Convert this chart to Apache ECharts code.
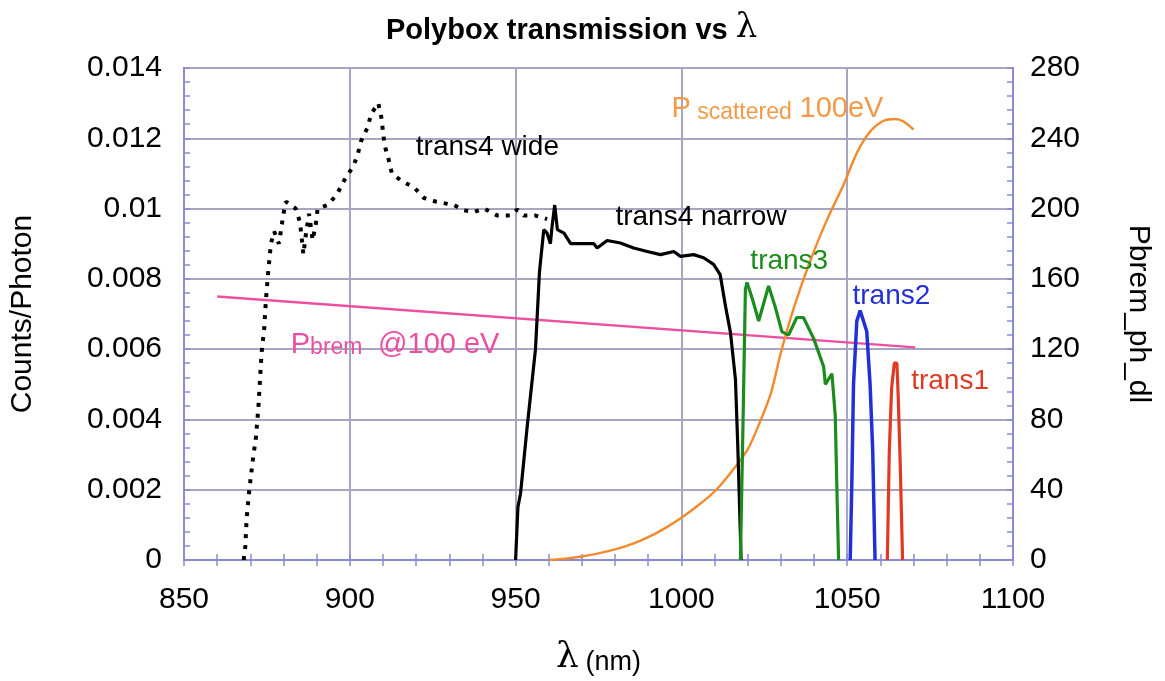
<!DOCTYPE html>
<html><head><meta charset="utf-8">
<script src="https://cdn.jsdelivr.net/npm/echarts@6/dist/echarts.min.js"></script>
<style>html,body{margin:0;padding:0;background:#fff}#c{width:1165px;height:681px}</style>
</head><body><div id="c"></div>
<script>
// ---- data (λ in nm, left axis Counts/Photon, right axis Pbrem_ph_dl) ----
const xTicks = [850, 900, 950, 1000, 1050, 1100];
const leftTicks = [0, 0.002, 0.004, 0.006, 0.008, 0.01, 0.012, 0.014];
const rightTicks = [0, 40, 80, 120, 160, 200, 240, 280];

const trans4Wide = [[868,0],[868.5,0.0004],[868.9,0.0012],[869.7,0.002],[870.7,0.0028],[871.7,0.0035],[872.4,0.0043],[872.9,0.0051],[873.4,0.0059],[874.2,0.0066],[874.7,0.0074],[875.4,0.0082],[876.2,0.009],[877.2,0.00935],[878.6,0.0090],[879.2,0.00935],[879.9,0.0098],[880.7,0.0102],[883.7,0.0100],[885.0,0.0096],[886.0,0.0087],[886.8,0.0093],[887.7,0.00985],[888.8,0.0091],[889.8,0.0096],[890.3,0.0100],[893.3,0.0101],[896.1,0.0104],[898.3,0.0108],[901.0,0.0112],[902.3,0.0115],[903.3,0.0119],[905.3,0.0123],[906.5,0.0127],[908.6,0.0130],[909.5,0.0126],[910.0,0.0122],[910.5,0.0118],[911.7,0.0114],[912.7,0.0110],[915.4,0.0108],[919.4,0.0106],[922.4,0.0103],[925.9,0.0102],[931.4,0.0101],[934.4,0.00995],[937.4,0.0099],[940.5,0.0100],[944.5,0.0098],[948.3,0.0098],[950.5,0.00997],[952.5,0.0098],[956.0,0.0098],[959.5,0.0097]];
const trans4Narrow = [[950.0,0],[950.7,0.0015],[951.5,0.0019],[953.5,0.0038],[956.0,0.006],[957.2,0.0082],[958.5,0.0094],[959.5,0.0093],[960.5,0.0090],[961.0,0.0095],[961.8,0.0101],[962.6,0.0094],[964.6,0.0093],[966.6,0.0090],[969.6,0.0090],[973.6,0.0090],[974.6,0.00888],[977.6,0.00909],[981.6,0.00902],[985.6,0.00888],[989.7,0.00878],[993.7,0.00869],[997.7,0.00878],[999.7,0.00864],[1003.7,0.00869],[1006.7,0.0086],[1009.7,0.00841],[1011.7,0.00812],[1013.3,0.00722],[1014.8,0.00647],[1016.3,0.00514],[1017.0,0.00325],[1017.6,0.00135],[1018.0,0]];
const trans3 = [[1017.8,0],[1018.6,0.004],[1019.3,0.0077],[1019.8,0.0079],[1021.5,0.0074],[1023.3,0.0068],[1024.8,0.0073],[1026.3,0.0078],[1028.3,0.0072],[1030.3,0.0065],[1032.3,0.0064],[1034.8,0.0069],[1036.8,0.0069],[1039.9,0.0063],[1042.9,0.0055],[1043.4,0.0050],[1045.4,0.0053],[1046.4,0.0041],[1046.9,0.0020],[1047.4,0]];
const trans2 = [[1050.9,0],[1051.4,0.0022],[1051.9,0.005],[1052.9,0.0068],[1053.9,0.0071],[1054.9,0.0068],[1055.9,0.0065],[1056.9,0.005],[1057.7,0.0031],[1058.4,0]];
const trans1 = [[1062.1,0],[1062.7,0.0031],[1063.4,0.0049],[1064.2,0.0056],[1065.0,0.0056],[1065.4,0.0046],[1066.0,0.0027],[1066.7,0]];
const pBrem = [[860,150],[1070.5,121]];
const pScattered = [[960,0],[965,0.8],[970,2],[975,3.8],[980,6],[985,9],[990,13],[995,18],[1000,24],[1005,31],[1010,39],[1015,50],[1020,63],[1024,80],[1027,95],[1030,118],[1034,144],[1039,171],[1044,194],[1049,214],[1053,232],[1057,244],[1061,250],[1064.5,251],[1067,249.6],[1070,245]];

// label anchors in data coordinates (left axis)
const labels = [
  {x: 919.9, y: 0.01173, text: 'trans4 wide', color: '#000'},
  {x: 980.1, y: 0.00974, text: 'trans4 narrow', color: '#000'},
  {x: 1020.8, y: 0.0085, text: 'trans3', color: '#1c8c1c'},
  {x: 1051.6, y: 0.0075, text: 'trans2', color: '#2230d8'},
  {x: 1069.3, y: 0.00509, text: 'trans1', color: '#e03a22'},
  {x: 882.2, y: 0.0062, text: '{a|P}{s|brem}  {a|@100 eV}', color: '#ec4fa0'},
  {x: 997.0, y: 0.0129, text: '{a|P}{s2| scattered} {a|100eV}', color: '#f39a4a'}
];

const FONT = 'Liberation Sans, Arial, Helvetica, sans-serif';
const frame = '#8a8ad6';
const gridCol = '#a6a6c2';

const chart = echarts.init(document.getElementById('c'), null, {renderer: 'canvas'});

function mkLine(data, color, width, yIdx, extra) {
  return Object.assign({
    type: 'line', data: data, yAxisIndex: yIdx, xAxisIndex: 0, showSymbol: false, symbol: 'none',
    lineStyle: {color: color, width: width}, animation: false, z: 3
  }, extra || {});
}
// hidden axes used only for the small inward tick marks
function tickAxis(pos, min, max, interval) {
  return {
    type: 'value', position: pos, min: min, max: max, interval: interval,
    axisLine: {show: false}, axisLabel: {show: false}, splitLine: {show: false},
    axisTick: {show: true, inside: true, length: 6, lineStyle: {color: frame, width: 1.5}}
  };
}

const option = {
  animation: false,
  backgroundColor: '#fff',
  title: {
    text: '{b|Polybox transmission vs }{l|λ}',
    left: 381, top: -2,
    textStyle: {
      rich: {
        b: {fontFamily: FONT, fontWeight: 'bold', fontSize: 29, color: '#000', lineHeight: 40, verticalAlign: 'bottom'},
        l: {fontFamily: 'DejaVu Serif, serif', fontWeight: 'normal', fontSize: 34, color: '#000', lineHeight: 42, verticalAlign: 'bottom'}
      }
    }
  },
  grid: {left: 183, right: 152, top: 68, bottom: 120, show: true, borderColor: frame, borderWidth: 2, backgroundColor: 'transparent'},
  xAxis: [{
    type: 'value', min: xTicks[0], max: xTicks[xTicks.length - 1], interval: 50,
    axisLine: {show: true, lineStyle: {color: frame, width: 2}},
    axisTick: {show: false},
    splitLine: {show: true, lineStyle: {color: gridCol, width: 2}},
    axisLabel: {color: '#000', fontFamily: FONT, fontSize: 30, margin: 25,
      formatter: function (v) { return String(Math.round(v)); }},
    name: '{l|λ}  {n|(nm)}', nameLocation: 'middle', nameGap: 76,
    nameTextStyle: {rich: {
      l: {fontFamily: 'DejaVu Serif, serif', fontSize: 36, color: '#000', lineHeight: 40, verticalAlign: 'bottom'},
      n: {fontFamily: FONT, fontSize: 27, color: '#000', lineHeight: 36, verticalAlign: 'bottom'}
    }}
  },
    tickAxis('bottom', xTicks[0], xTicks[xTicks.length - 1], 10),
    tickAxis('top', xTicks[0], xTicks[xTicks.length - 1], 10)
  ],
  yAxis: [{
    type: 'value', min: leftTicks[0], max: leftTicks[leftTicks.length - 1], interval: 0.002,
    axisLine: {show: true, lineStyle: {color: frame, width: 2}},
    axisTick: {show: false},
    splitLine: {show: true, lineStyle: {color: gridCol, width: 2}},
    axisLabel: {color: '#000', fontFamily: FONT, fontSize: 30, margin: 22,
      formatter: function (v) { let best = leftTicks.reduce((a, b) => Math.abs(b - v) < Math.abs(a - v) ? b : a); return String(best); }},
    name: 'Counts/Photon', nameLocation: 'middle', nameGap: 146, nameRotate: 90,
    nameTextStyle: {fontFamily: FONT, fontSize: 30, color: '#000'}
  }, {
    type: 'value', position: 'right', min: rightTicks[0], max: rightTicks[rightTicks.length - 1], interval: 40,
    axisLine: {show: true, lineStyle: {color: frame, width: 2}},
    axisTick: {show: false},
    splitLine: {show: false},
    axisLabel: {color: '#000', fontFamily: FONT, fontSize: 30, margin: 17},
    name: 'Pbrem_ph_dl', nameLocation: 'middle', nameGap: 110, nameRotate: -90,
    nameTextStyle: {fontFamily: FONT, fontSize: 30, color: '#000'}
  },
    tickAxis('left', 0, 280, 8),
    tickAxis('right', 0, 280, 8)
  ],
  series: [
    mkLine(pBrem, '#ec4fa0', 2.4, 1),
    mkLine(pScattered, '#f28a2e', 2.4, 1, {smooth: 0.3}),
    mkLine(trans4Wide, '#000', 4, 0, {lineStyle: {color: '#000', width: 4, type: [4, 7], cap: 'butt'}}),
    mkLine(trans4Narrow, '#000', 3.2, 0),
    mkLine(trans3, '#1c8c1c', 3.2, 0),
    mkLine(trans2, '#2230d8', 3.5, 0),
    mkLine(trans1, '#e03a22', 3.2, 0)
  ]
};
chart.setOption(option);

const g = labels.map(function (L) {
  const p = chart.convertToPixel({xAxisIndex: 0, yAxisIndex: 0}, [L.x, L.y]);
  return {
    type: 'text', x: p[0], y: p[1], z: 10,
    style: {
      text: L.text, fill: L.color, font: '28px ' + FONT, textAlign: 'left', textVerticalAlign: 'middle',
      rich: {
        a: {fontFamily: FONT, fontSize: 29, fill: L.color, color: L.color, lineHeight: 34, verticalAlign: 'bottom'},
        s: {fontFamily: FONT, fontSize: 23, fill: L.color, color: L.color, lineHeight: 16, verticalAlign: 'bottom'},
        s2: {fontFamily: FONT, fontSize: 23, fill: L.color, color: L.color, lineHeight: 24, verticalAlign: 'bottom'}
      }
    }
  };
});
chart.setOption({graphic: g});
</script></body></html>
